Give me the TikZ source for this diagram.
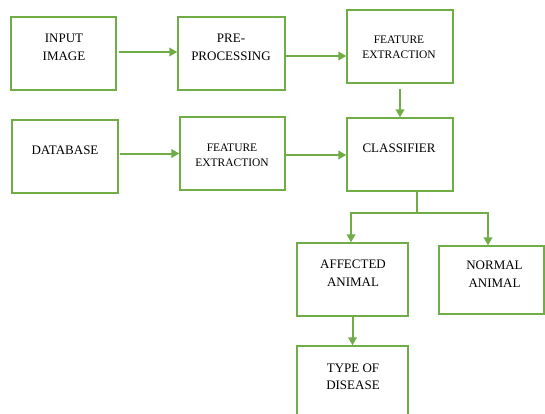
\documentclass[tikz,border=0pt]{standalone}
\usepackage{fontspec}
\setmainfont{Liberation Serif}
\usetikzlibrary{arrows.meta}
\definecolor{grn}{HTML}{70AD47}
\tikzset{
  box/.style={draw=grn, line width=1.3pt, inner sep=0pt},
  lbl/.style={align=center, font=\fontsize{13}{17.5}\selectfont, inner sep=0pt},
  slbl/.style={align=center, font=\fontsize{11.5}{15}\selectfont, inner sep=0pt},
  arr/.style={draw=grn, line width=2pt, -{Triangle[length=8pt,width=8.5pt]}},
  ln/.style={draw=grn, line width=2pt}
}
\begin{document}
\begin{tikzpicture}[x=1pt,y=-1pt]
\useasboundingbox (0,0) rectangle (545,414);
\clip (0,0) rectangle (545,414);
% boxes
\node[box, minimum width=105pt, minimum height=73pt] (inp) at (63.5,53.5) {};
\node[box, minimum width=107pt, minimum height=73pt] (pre) at (231.5,53.5) {};
\node[box, minimum width=106pt, minimum height=73pt] (fe1) at (400,46.5) {};
\node[box, minimum width=106pt, minimum height=73pt] (db) at (65,156.5) {};
\node[box, minimum width=105pt, minimum height=73pt] (fe2) at (232.5,153.5) {};
\node[box, minimum width=106pt, minimum height=73pt] (cls) at (400,154.5) {};
\node[box, minimum width=111pt, minimum height=73pt] (aff) at (352.5,279.5) {};
\node[box, minimum width=105pt, minimum height=68pt] (nor) at (491.5,280) {};
\node[box, minimum width=111pt, minimum height=80pt] (tod) at (352.5,386) {};
% labels
\node[lbl] at (64,47.5) {INPUT\\IMAGE};
\node[lbl] at (231,47.5) {PRE-\\PROCESSING};
\node[slbl] at (399,47) {FEATURE\\EXTRACTION};
\node[lbl] at (65,150) {DATABASE};
\node[slbl] at (232,155.5) {FEATURE\\EXTRACTION};
\node[lbl] at (399,148.5) {CLASSIFIER};
\node[lbl] at (353,273) {AFFECTED\\ANIMAL};
\node[lbl] at (494.5,274) {NORMAL\\ANIMAL};
\node[lbl] at (353,377) {TYPE OF\\DISEASE};
% connectors
\draw[arr, shorten <=2pt] ([yshift=1.5pt]inp.east) -- ([yshift=1.5pt]inp.east -| pre.west);
\draw[arr] ([yshift=-2.5pt]pre.east) -- ([yshift=-2.5pt]pre.east -| fe1.west);
\draw[arr, shorten <=5pt] (fe1.south) -- (cls.north);
\draw[arr, shorten <=1pt] (db.east |- fe2) -- (fe2.west);
\draw[arr] ([yshift=-1.5pt]fe2.east) -- ([yshift=-1.5pt]fe2.east -| cls.west);
\coordinate (split) at (417,213);
\draw[ln] (cls.south -| split) -- (split);
\draw[arr] (split) -| ([xshift=-1.5pt]aff.north);
\draw[arr] (split) -| ([xshift=-3.5pt]nor.north);
\draw[arr] (aff.south) -- (tod.north);
\end{tikzpicture}
\end{document}
